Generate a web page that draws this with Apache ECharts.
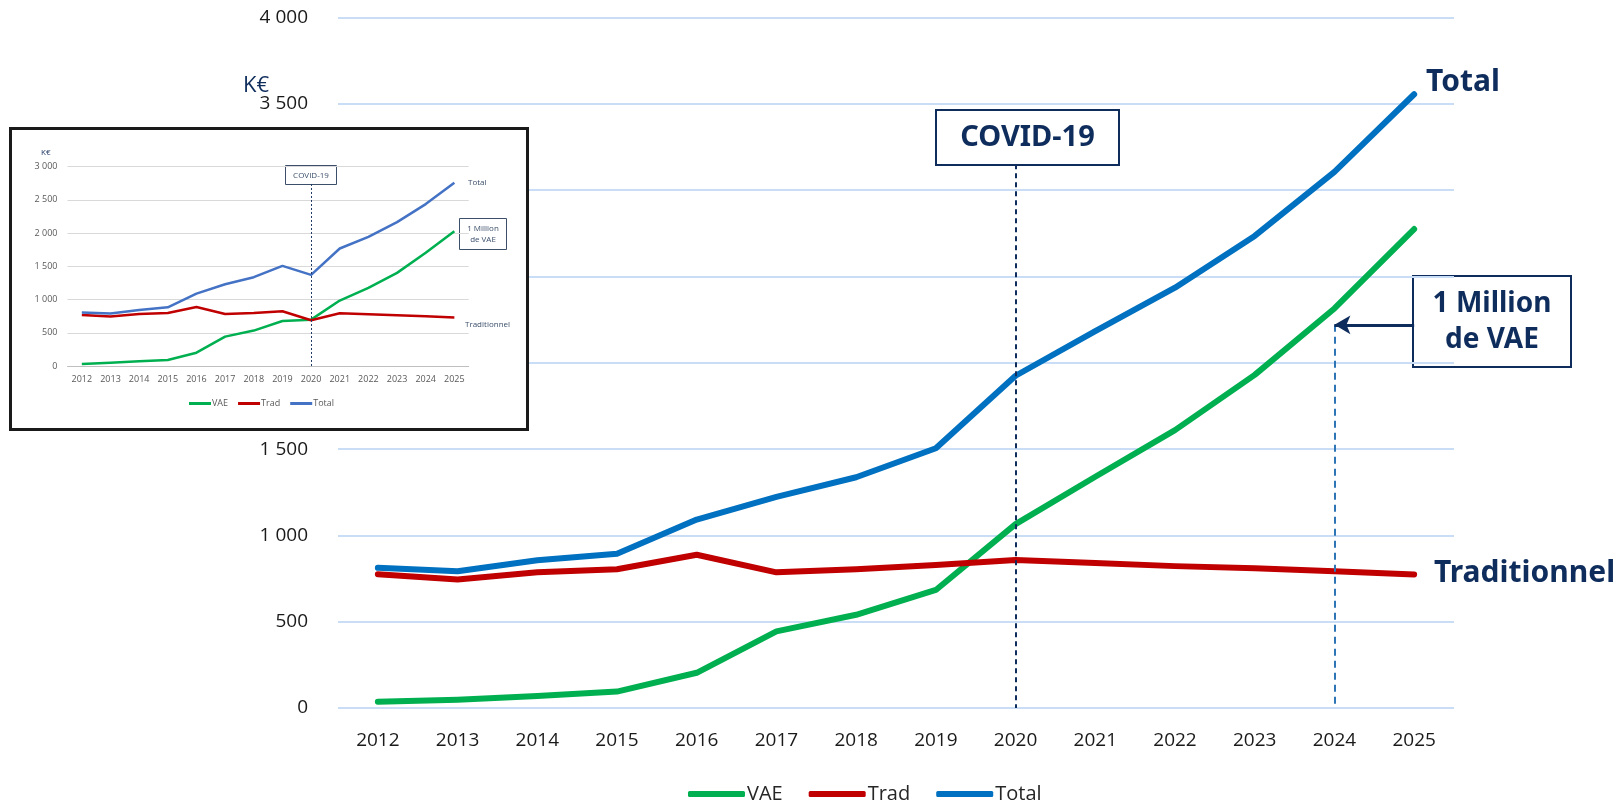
<!DOCTYPE html>
<html><head><meta charset="utf-8">
<script src="https://cdn.jsdelivr.net/npm/echarts@6/dist/echarts.min.js"></script>
<style>
html,body{margin:0;padding:0;background:#fff;}
#main{position:absolute;left:0;top:0;width:1623px;height:802px;}
#inset{position:absolute;left:9px;top:127px;width:520px;height:304px;box-sizing:border-box;border:3px solid #1a1a1a;background:#fff;}
</style></head>
<body>
<div id="main"></div>
<div id="inset"></div>
<script>
// ---- data ----
const years = ['2012','2013','2014','2015','2016','2017','2018','2019','2020','2021','2022','2023','2024','2025'];
// main (new forecast)
const vae   = [36, 48, 70, 95, 204, 444, 540, 684, 1065, 1340, 1610, 1930, 2315, 2775];
const trad  = [775, 744, 786, 804, 888, 786, 804, 828, 858, 840, 822, 810, 792, 774];
const total = [812, 792, 856, 894, 1092, 1223, 1337, 1505, 1925, 2183, 2435, 2735, 3106, 3556];
// inset (previous forecast)
const vaeOld   = [30, 50, 70, 90, 200, 442, 533, 678, 698, 985, 1176, 1402, 1704, 2030];
const tradOld  = [769, 744, 784, 799, 889, 784, 799, 824, 688, 794, 779, 764, 749, 729];
const totalOld = [804, 789, 844, 884, 1090, 1231, 1337, 1508, 1372, 1769, 1945, 2166, 2437, 2759];
const yTicks = {min: 0, max: 4000, interval: 500};
const yTicksOld = {min: 0, max: 3000, interval: 500};
const seriesNames = ['VAE', 'Trad', 'Total'];

const navy = '#0f2d5c';
const fmt = v => v >= 1000 ? Math.floor(v/1000) + ' ' + String(v % 1000).padStart(3, '0') : String(v);
const FONT = '"Open Sans", sans-serif';
const BFONT = '"Noto Sans", sans-serif';

// ---- main chart ----
const main = echarts.init(document.getElementById('main'), null, {renderer: 'canvas'});
main.setOption({
  animation: false,
  backgroundColor: '#fff',
  grid: {left: 338, right: 169, top: 17.6, bottom: 94},
  legend: {
    data: seriesNames, left: 683, top: 779, itemWidth: 57, itemHeight: 6, itemGap: 26,
    icon: 'roundRect',
    textStyle: {fontFamily: FONT, fontSize: 20, color: '#262626', padding: [0,0,0,-3]}
  },
  xAxis: {
    type: 'category', data: years, boundaryGap: true,
    axisLine: {show: false}, axisTick: {show: false},
    axisLabel: {fontFamily: FONT, fontSize: 19, color: '#1a1a1a', margin: 23}
  },
  yAxis: {
    type: 'value', min: yTicks.min, max: yTicks.max, interval: yTicks.interval,
    axisLine: {show: false}, axisTick: {show: false},
    axisLabel: {fontFamily: FONT, fontSize: 19, color: '#1a1a1a', margin: 30, formatter: fmt},
    splitLine: {lineStyle: {color: '#c9def6', width: 2}}
  },
  series: [
    {name: 'VAE', type: 'line', data: vae, symbol: 'none', lineStyle: {width: 6, color: '#00b050', cap: 'round', join: 'round'}, itemStyle: {color: '#00b050'},
     markLine: {silent: true, symbol: ['none','none'], label: {show: false},
       data: [
         [{coord: ['2020', 3150], lineStyle: {color: navy, type: [5,4], width: 2}}, {coord: ['2020', 0]}],
         [{coord: ['2024', 2220], lineStyle: {color: '#2e75b6', type: [7,5], width: 2}}, {coord: ['2024', 0]}]
       ]}},
    {name: 'Trad', type: 'line', data: trad, symbol: 'none', lineStyle: {width: 6, color: '#c00000', cap: 'round', join: 'round'}, itemStyle: {color: '#c00000'}},
    {name: 'Total', type: 'line', data: total, symbol: 'none', lineStyle: {width: 6, color: '#0070c0', cap: 'round', join: 'round'}, itemStyle: {color: '#0070c0'},
     markLine: {silent: true, symbol: ['none','arrow'], symbolSize: [14, 16], label: {show: false},
       data: [[{coord: ['2025', 2220], lineStyle: {color: navy, type: 'solid', width: 3}}, {coord: ['2024', 2220]}]]}}
  ],
  graphic: [
    {type: 'text', left: 243, top: 75, style: {text: 'K€', font: '22px ' + FONT, fill: navy}},
    {type: 'group', left: 935, top: 109, children: [
      {type: 'rect', shape: {x: 0, y: 0, width: 183, height: 55}, style: {fill: '#fff', stroke: navy, lineWidth: 2}},
      {type: 'text', x: 91.5, y: 28, style: {text: 'COVID-19', font: 'bold 29px ' + BFONT, fill: navy, align: 'center', verticalAlign: 'middle'}}
    ]},
    {type: 'group', left: 1412, top: 275, z: 10, children: [
      {type: 'rect', shape: {x: 0, y: 0, width: 158, height: 91}, style: {fill: '#fff', stroke: navy, lineWidth: 2}},
      {type: 'text', x: 79, y: 46, style: {text: '1 Million\nde VAE', font: 'bold 28px ' + BFONT, lineHeight: 36, fill: navy, align: 'center', verticalAlign: 'middle'}}
    ]},
    {type: 'text', left: 1426, top: 67, style: {text: 'Total', font: 'bold 30px ' + BFONT, fill: navy}},
    {type: 'text', left: 1434, top: 558, style: {text: 'Traditionnel', font: 'bold 30px ' + BFONT, fill: navy}}
  ]
});

// ---- inset chart ----
const inset = echarts.init(document.getElementById('inset'), null, {renderer: 'canvas'});
const slate = '#3b4f6b';
inset.setOption({
  animation: false,
  backgroundColor: '#fff',
  grid: {left: 55.5, right: 57.3, top: 36.7, bottom: 62},
  legend: {
    data: seriesNames, left: 172, top: 264, itemWidth: 22, itemHeight: 3, itemGap: 10, icon: 'rect',
    textStyle: {fontFamily: FONT, fontSize: 9, color: '#595959', padding: [0,0,0,-4]}
  },
  xAxis: {
    type: 'category', data: years, boundaryGap: true,
    axisLine: {lineStyle: {color: '#bfbfbf'}}, axisTick: {show: false},
    axisLabel: {fontFamily: FONT, fontSize: 9, color: '#595959', margin: 9}
  },
  yAxis: {
    type: 'value', min: yTicksOld.min, max: yTicksOld.max, interval: yTicksOld.interval,
    axisLine: {show: false}, axisTick: {show: false},
    axisLabel: {fontFamily: FONT, fontSize: 9, color: '#595959', margin: 10, formatter: fmt},
    splitLine: {lineStyle: {color: '#d9d9d9', width: 1}}
  },
  series: [
    {name: 'VAE', type: 'line', data: vaeOld, symbol: 'none', lineStyle: {width: 2.5, color: '#00b050'}, itemStyle: {color: '#00b050'},
     markLine: {silent: true, symbol: ['none','none'], label: {show: false},
       data: [[{coord: ['2020', 2740], lineStyle: {color: '#1f3864', type: [2,2], width: 1}}, {coord: ['2020', 0]}]]}},
    {name: 'Trad', type: 'line', data: tradOld, symbol: 'none', lineStyle: {width: 2.5, color: '#c00000'}, itemStyle: {color: '#c00000'}},
    {name: 'Total', type: 'line', data: totalOld, symbol: 'none', lineStyle: {width: 2.5, color: '#4472c4'}, itemStyle: {color: '#4472c4'}}
  ],
  graphic: [
    {type: 'text', left: 29, top: 19, style: {text: 'K€', font: '8px ' + FONT, fill: '#1f3864'}},
    {type: 'group', left: 273, top: 35, children: [
      {type: 'rect', shape: {x: 0, y: 0, width: 51, height: 19}, style: {fill: '#fff', stroke: slate, lineWidth: 1}},
      {type: 'text', x: 25.5, y: 10, style: {text: 'COVID-19', font: '8px ' + FONT, fill: slate, align: 'center', verticalAlign: 'middle'}}
    ]},
    {type: 'group', left: 447, top: 88, children: [
      {type: 'rect', shape: {x: 0, y: 0, width: 47, height: 31}, style: {fill: '#fff', stroke: slate, lineWidth: 1}},
      {type: 'text', x: 23.5, y: 16, style: {text: '1 Million\nde VAE', font: '8px ' + FONT, lineHeight: 11, fill: slate, align: 'center', verticalAlign: 'middle'}}
    ]},
    {type: 'text', left: 456, top: 49, style: {text: 'Total', font: '8px ' + FONT, fill: slate}},
    {type: 'text', left: 453, top: 191, style: {text: 'Traditionnel', font: '8px ' + FONT, fill: slate}}
  ]
});
</script>
</body></html>
